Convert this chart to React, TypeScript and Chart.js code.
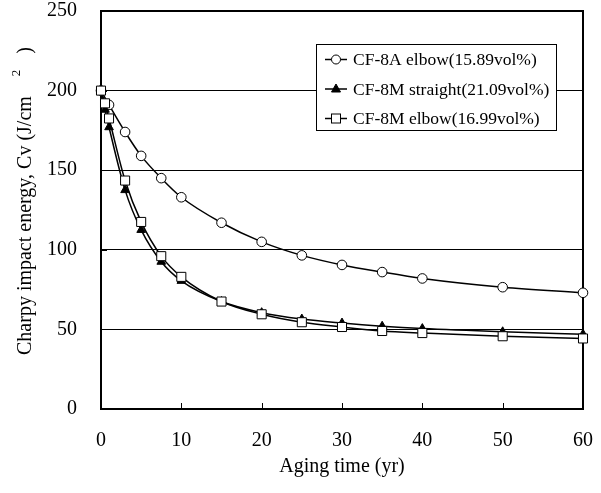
import React, { useEffect, useRef } from "react";
import { Chart, registerables } from "chart.js";

Chart.register(...registerables);

// ---- data ----
const seriesLabels = [
  "CF-8A elbow(15.89vol%)",
  "CF-8M straight(21.09vol%)",
  "CF-8M elbow(16.99vol%)",
];
const cf8aElbowYears = [0, 1, 3, 5, 7.5, 10, 15, 20, 25, 30, 35, 40, 50, 60];
const cf8aElbowValues = [200, 191, 174, 159, 145, 133, 117, 105, 96.5, 90.5, 86, 82, 76.5, 73];
const cf8mStraightYears = [0, 0.5, 1, 3, 5, 7.5, 10, 15, 20, 25, 30, 35, 40, 50, 60];
const cf8mStraightValues = [200, 188, 177, 137.5, 112.5, 92.5, 80.5, 67.5, 60.5, 56.5, 54, 52, 50.5, 48.5, 47];
const cf8mElbowYears = [0, 0.5, 1, 3, 5, 7.5, 10, 15, 20, 25, 30, 35, 40, 50, 60];
const cf8mElbowValues = [200, 192, 182.5, 143.5, 117.5, 96, 83, 67.5, 59.5, 54.5, 51.5, 49, 47.7, 45.7, 44.3];

const xTitle = "Aging time (yr)";
const yTitleMain = "Charpy impact energy, Cv (J/cm";
const yTitleSup = "2";
const yTitleEnd = ")";

const FONT = "'Liberation Serif', 'Times New Roman', serif";

const toPoints = (xs: number[], ys: number[]) => xs.map((x, i) => ({ x, y: ys[i] }));

const framePlugin = {
  id: "frame",
  beforeDatasetsDraw(chart: any) {
    const { ctx, chartArea: a, scales } = chart;
    ctx.save();
    ctx.strokeStyle = "#000";
    ctx.lineWidth = 1;
    scales.x.ticks.forEach((t: any) => {
      const px = Math.round(scales.x.getPixelForValue(t.value)) + 0.5;
      ctx.beginPath();
      ctx.moveTo(px, a.bottom);
      ctx.lineTo(px, a.bottom - 6);
      ctx.stroke();
    });
    scales.y.ticks.forEach((t: any) => {
      const py = Math.round(scales.y.getPixelForValue(t.value)) + 0.5;
      ctx.beginPath();
      ctx.moveTo(a.left, py);
      ctx.lineTo(a.left + 6, py);
      ctx.stroke();
    });
    ctx.lineWidth = 2;
    ctx.strokeRect(a.left, a.top, a.right - a.left, a.bottom - a.top);
    ctx.restore();
  },
};

const drawMarker = (ctx: any, style: string, x: number, y: number) => {
  ctx.save();
  ctx.lineWidth = 1;
  ctx.strokeStyle = "#000";
  if (style === "circle") {
    ctx.fillStyle = "#fff";
    ctx.beginPath();
    ctx.arc(x, y, 4.5, 0, Math.PI * 2);
    ctx.fill();
    ctx.stroke();
  } else if (style === "triangle") {
    ctx.fillStyle = "#000";
    ctx.beginPath();
    ctx.moveTo(x, y - 5);
    ctx.lineTo(x + 4.5, y + 3);
    ctx.lineTo(x - 4.5, y + 3);
    ctx.closePath();
    ctx.fill();
    ctx.stroke();
  } else {
    ctx.fillStyle = "#fff";
    ctx.fillRect(x - 4.5, y - 4.5, 9, 9);
    ctx.strokeRect(x - 4.5, y - 4.5, 9, 9);
  }
  ctx.restore();
};

const legendPlugin = {
  id: "boxLegend",
  afterDatasetsDraw(chart: any) {
    const { ctx } = chart;
    const left = 316.5, top = 44.5, w = 240, h = 86;
    ctx.save();
    ctx.fillStyle = "#fff";
    ctx.fillRect(left, top, w, h);
    ctx.strokeStyle = "#000";
    ctx.lineWidth = 1;
    ctx.strokeRect(left, top, w, h);
    ctx.font = `17.5px ${FONT}`;
    ctx.textBaseline = "middle";
    ctx.textAlign = "left";
    chart.data.datasets.forEach((ds: any, i: number) => {
      const y = 59.5 + i * 29.5;
      ctx.strokeStyle = "#000";
      ctx.lineWidth = 1.5;
      ctx.beginPath();
      ctx.moveTo(325, y);
      ctx.lineTo(347, y);
      ctx.stroke();
      drawMarker(ctx, ds.pointStyle, 336, y);
      ctx.fillStyle = "#000";
      ctx.fillText(ds.label, 353, y + 1);
    });
    ctx.restore();
  },
};

const yTitlePlugin = {
  id: "yTitle",
  afterDraw(chart: any) {
    const { ctx } = chart;
    ctx.save();
    ctx.translate(26, 355);
    ctx.rotate(-Math.PI / 2);
    ctx.fillStyle = "#000";
    ctx.textAlign = "left";
    ctx.textBaseline = "middle";
    ctx.font = `20px ${FONT}`;
    ctx.fillText(yTitleMain, 0, 0);
    let x = ctx.measureText(yTitleMain).width + 20;
    ctx.font = `13px ${FONT}`;
    ctx.fillText(yTitleSup, x, -9);
    x += ctx.measureText(yTitleSup).width + 16;
    ctx.font = `20px ${FONT}`;
    ctx.fillText(yTitleEnd, x, 0);
    ctx.restore();
  },
};

export default function App() {
  const ref = useRef<HTMLCanvasElement | null>(null);
  useEffect(() => {
    if (!ref.current) return;
    const common = {
      borderColor: "#000",
      borderWidth: 1.5,
      pointBorderColor: "#000",
      pointBorderWidth: 1,
      cubicInterpolationMode: "monotone",
      clip: false,
      fill: false,
    };
    const chart = new Chart(ref.current, {
      type: "line",
      data: {
        datasets: [
          {
            ...common,
            label: seriesLabels[0],
            data: toPoints(cf8aElbowYears, cf8aElbowValues),
            pointStyle: "circle",
            pointRadius: 4.8,
            pointBackgroundColor: "#fff",
            order: 3,
          },
          {
            ...common,
            label: seriesLabels[1],
            data: toPoints(cf8mStraightYears, cf8mStraightValues),
            pointStyle: "triangle",
            pointRadius: 5,
            pointBackgroundColor: "#000",
            order: 2,
          },
          {
            ...common,
            label: seriesLabels[2],
            data: toPoints(cf8mElbowYears, cf8mElbowValues),
            pointStyle: "rect",
            pointRadius: 6.4,
            pointBackgroundColor: "#fff",
            order: 1,
          },
        ] as any,
      },
      options: {
        animation: false,
        responsive: false,
        devicePixelRatio: 1,
        layout: { padding: { left: 0, right: 18, top: 11, bottom: 0 } },
        plugins: {
          legend: { display: false },
          title: { display: false },
          tooltip: { enabled: false },
        },
        scales: {
          x: {
            type: "linear",
            min: 0,
            max: 60,
            border: { display: false },
            grid: { drawOnChartArea: false, drawTicks: false },
            ticks: {
              stepSize: 10,
              padding: 20,
              color: "#000",
              font: { family: FONT, size: 20 },
              maxRotation: 0,
            },
            title: {
              display: true,
              text: xTitle,
              color: "#000",
              font: { family: FONT, size: 20 },
              padding: { top: 0, bottom: 14 },
            },
            afterFit(scale: any) {
              scale.height = 84;
              scale.paddingLeft = 0;
              scale.paddingRight = 0;
            },
          },
          y: {
            type: "linear",
            min: 0,
            max: 250,
            border: { display: false },
            grid: {
              color: (c: any) => (c.tick && (c.tick.value === 0 || c.tick.value === 250) ? "rgba(0,0,0,0)" : "#000"),
              lineWidth: 1,
              drawTicks: false,
            },
            ticks: {
              stepSize: 50,
              padding: 24,
              color: "#000",
              font: { family: FONT, size: 20 },
            },
            afterFit(scale: any) {
              scale.width = 101;
              scale.paddingTop = 0;
              scale.paddingBottom = 0;
            },
          },
        },
      },
      plugins: [framePlugin, legendPlugin, yTitlePlugin],
    } as any);
    return () => chart.destroy();
  }, []);
  return (
    <div style={{ position: "absolute", left: 0, top: 0, width: 601, height: 493, background: "#fff" }}>
      <canvas ref={ref} width={601} height={493} style={{ display: "block", width: 601, height: 493 }} />
    </div>
  );
}
